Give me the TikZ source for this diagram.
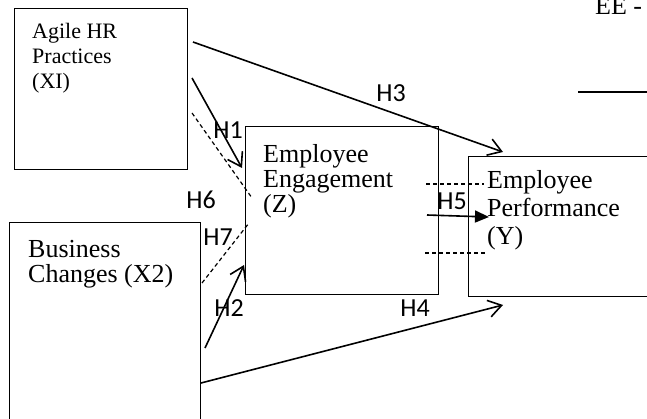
\documentclass[tikz,border=0pt]{standalone}
\usepackage{fontspec}
\setmainfont{Liberation Serif}
\newfontfamily\hfont{Carlito}
\usepackage{tikz}
\usetikzlibrary{arrows.meta}

\begin{document}
\begin{tikzpicture}[x=1pt, y=-1pt]
        \useasboundingbox (0,0) rectangle (647,419);
        \clip (0,0) rectangle (647,419);
        \tikzstyle{BoxStyle} = [draw, line width=1.1pt, inner sep=0pt, anchor=north west]
        \tikzstyle{TextStyle} = [inner sep=0pt, anchor=north west, align=left, font=\fontsize{26}{25}\selectfont]
        \tikzstyle{LabelStyle} = [inner sep=0pt, font=\hfont\fontsize{26}{26}\selectfont]
        \tikzstyle{EdgeStyle} = [line width=1.6pt, -{Straight Barb[length=13pt, width=17pt, line width=1.6pt]}]
        \tikzstyle{DashStyle} = [line width=1.2pt, dash pattern=on 4pt off 3pt]
        % boxes
        \node[BoxStyle, minimum width=173pt, minimum height=161pt] (XI) at (14,8) {};
        \node[BoxStyle, minimum width=191pt, minimum height=220pt] (X2) at (9,222) {};
        \node[BoxStyle, minimum width=193pt, minimum height=168pt] (Z) at (245,126) {};
        \node[BoxStyle, minimum width=200pt, minimum height=140pt] (Y) at (468,156) {};
        % texts
        \node[TextStyle, font=\fontsize{22}{25}\selectfont] (XItext) at (32,23) {Agile HR\\Practices\\(XI)};
        \node[TextStyle] (X2text) at (28,240) {Business\\Changes (X2)};
        \node[TextStyle] (Ztext) at (263,144) {Employee\\Engagement\\(Z)};
        \node[TextStyle, font=\fontsize{26}{28}\selectfont] (Ytext) at (487,170) {Employee\\Performance\\(Y)};
        \node[inner sep=0pt, anchor=base west, font=\fontsize{26}{26}\selectfont] (EE) at (595,15) {EE -};
        % end points
        \coordinate (a3s) at (193,42);  \coordinate (a3e) at (503,152);
        \coordinate (a1s) at (192,78);  \coordinate (a1e) at (242,168);
        \coordinate (d6s) at (192,113); \coordinate (d6e) at (252,198);
        \coordinate (d7s) at (202,283); \coordinate (d7e) at (249,223);
        \coordinate (a2s) at (205,348); \coordinate (a2e) at (244,265);
        \coordinate (a4s) at (201,383); \coordinate (a4e) at (503,305);
        \coordinate (a5s) at (427,215); \coordinate (a5e) at (489,217);
        \coordinate (d5s) at (426,184); \coordinate (d5e) at (484,184);
        \coordinate (d8s) at (425,253); \coordinate (d8e) at (486,253);
        \coordinate (rs) at (578,92);   \coordinate (re) at (650,92);
        % connectors
        \draw[EdgeStyle] (a3s) -- (a3e);
        \draw[EdgeStyle] (a1s) -- (a1e);
        \draw[EdgeStyle] (a2s) -- (a2e);
        \draw[EdgeStyle] (a4s) -- (a4e);
        \draw[line width=1.6pt, -{Triangle[length=14pt, width=12pt]}] (a5s) -- (a5e);
        \draw[DashStyle] (d6s) -- (d6e);
        \draw[DashStyle] (d7s) -- (d7e);
        \draw[DashStyle] (d5s) -- (d5e);
        \draw[DashStyle] (d8s) -- (d8e);
        \draw[line width=2pt] (rs) -- (re);
        % labels
        \node[LabelStyle] (H1) at (228,130) {H1};
        \node[LabelStyle] (H2) at (229,308) {H2};
        \node[LabelStyle] (H3) at (391,93) {H3};
        \node[LabelStyle] (H4) at (415,308) {H4};
        \node[LabelStyle] (H5) at (452,201) {H5};
        \node[LabelStyle] (H6) at (201,200) {H6};
        \node[LabelStyle] (H7) at (218,237) {H7};
    \end{tikzpicture}
\end{document}
